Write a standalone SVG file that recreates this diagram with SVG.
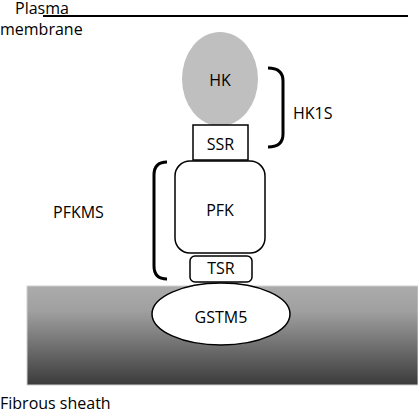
<svg xmlns="http://www.w3.org/2000/svg" width="418" height="413" viewBox="0 0 418 413">
<defs>
<linearGradient id="fs" x1="0" y1="0" x2="0" y2="1">
<stop offset="0" stop-color="#ababab"/>
<stop offset="0.25" stop-color="#a0a0a0"/>
<stop offset="1" stop-color="#3b3b3b"/>
</linearGradient>
</defs>
<style>
text{font-family:"Open Sans","Liberation Sans",sans-serif;font-size:16px;fill:#000}
.c{text-anchor:middle}
.box{fill:#fff;stroke:#000;stroke-width:1.5}
.br{fill:none;stroke:#000;stroke-width:3}
</style>
<rect x="0" y="0" width="418" height="413" fill="#fff"/>
<g id="membrane">
<line x1="43" y1="16" x2="408" y2="16" stroke="#000" stroke-width="2"/>
<text x="15" y="14">Plasma</text>
<text x="0" y="35">membrane</text>
</g>
<g id="fibrous-sheath">
<rect x="27" y="286" width="391" height="99" fill="url(#fs)" stroke="#cfcfcf" stroke-width="1"/>
<text x="0" y="409">Fibrous sheath</text>
</g>
<g id="HK">
<ellipse cx="220" cy="79" rx="38" ry="47" fill="#bfbfbf"/>
<text class="c" x="220" y="86">HK</text>
</g>
<g id="SSR">
<rect class="box" x="193" y="125" width="55" height="35"/>
<text class="c" x="220.5" y="150">SSR</text>
</g>
<g id="PFK">
<rect class="box" x="175" y="161" width="90" height="92" rx="15"/>
<text class="c" x="220" y="216">PFK</text>
</g>
<g id="TSR">
<rect class="box" x="190" y="256" width="62" height="26" rx="5"/>
<text class="c" x="221" y="274">TSR</text>
</g>
<g id="GSTM5">
<ellipse cx="221" cy="314" rx="69" ry="31" fill="#fff" stroke="#000" stroke-width="1.5"/>
<text class="c" x="221" y="323">GSTM5</text>
</g>
<g id="connectors">
<path class="br" d="M268,68 Q283,68 283,81 V134 Q283,147 268,147"/>
<path class="br" d="M167,162 Q154,162 154,175 V266 Q154,279 167,279"/>
</g>
<g id="labels">
<text x="293" y="119">HK1S</text>
<text x="53" y="218">PFKMS</text>
</g>
</svg>
